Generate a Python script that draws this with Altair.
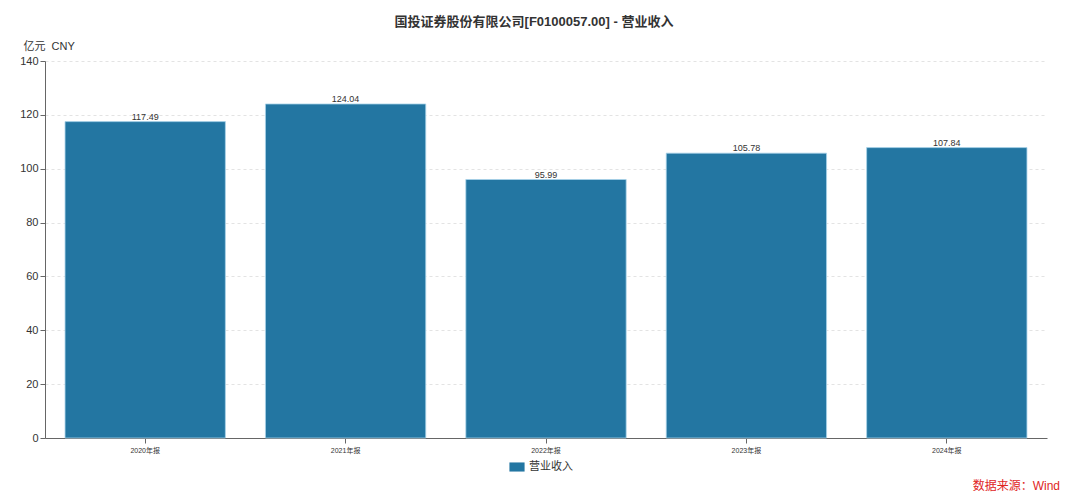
import altair as alt
import pandas as pd

periods = ["2020年报", "2021年报", "2022年报", "2023年报", "2024年报"]
revenue = [117.49, 124.04, 95.99, 105.78, 107.84]
series_name = "营业收入"

source = pd.DataFrame({"period": periods, "value": revenue, "series": series_name})
note = pd.DataFrame({"text": ["数据来源：Wind"]})

FONT = "Liberation Sans, Noto Sans CJK SC, sans-serif"

base = alt.Chart(source).encode(
    x=alt.X("period:N", sort=periods, title=None,
            scale=alt.Scale(paddingInner=0.2, paddingOuter=0.1),
            axis=alt.Axis(labelAngle=0, labelFontSize=7, labelColor="#333",
                          domainColor="#666", tickColor="#666", tickSize=5,
                          labelPadding=3)),
    y=alt.Y("value:Q", title="亿元\u00a0\u00a0CNY",
            scale=alt.Scale(domain=[0, 140]),
            axis=alt.Axis(values=[0, 20, 40, 60, 80, 100, 120, 140],
                          grid=True, gridDash=[3, 3], gridColor="#e3e3e3",
                          domainColor="#666", tickColor="#666", tickSize=5,
                          labelFontSize=11, labelColor="#333", labelPadding=2,
                          titleAngle=0, titleX=-22, titleY=-15,
                          titleAlign="left", titleBaseline="middle",
                          titleFontSize=11, titleFontWeight="normal",
                          titleColor="#333")),
)

bars = base.mark_bar(color="#2376a2", stroke="#a9d3ea", strokeWidth=0.8).encode(
    color=alt.Color("series:N", title=None,
                    scale=alt.Scale(range=["#2376a2"]),
                    legend=alt.Legend(orient="none", legendX=464, legendY=398,
                                      symbolType="M-1,-0.6L1,-0.6L1,0.6L-1,0.6Z",
                                      symbolSize=230, symbolStrokeWidth=0,
                                      labelFontSize=11, labelColor="#333"))
)

labels = base.mark_text(baseline="bottom", dy=0, fontSize=9, color="#333").encode(
    text=alt.Text("value:Q", format=".2f")
)

source_note = alt.Chart(note).mark_text(
    align="right", baseline="middle", fontSize=12, color="#e0261f"
).encode(x=alt.value(1015), y=alt.value(425), text="text:N")

chart = alt.layer(bars, labels, source_note).properties(
    width=1002, height=377,
    autosize=alt.AutoSizeParams(type="none"),
    padding={"left": 37, "top": 53, "right": 25, "bottom": 57},
    title=alt.Title("国投证券股份有限公司[F0100057.00] - 营业收入",
                    fontSize=13, fontWeight="bold", color="#333",
                    anchor="middle", offset=11, dx=-12),
).configure(font=FONT).configure_view(stroke=None)

chart.save("out.html", embed_options={"renderer": "svg", "actions": False})
